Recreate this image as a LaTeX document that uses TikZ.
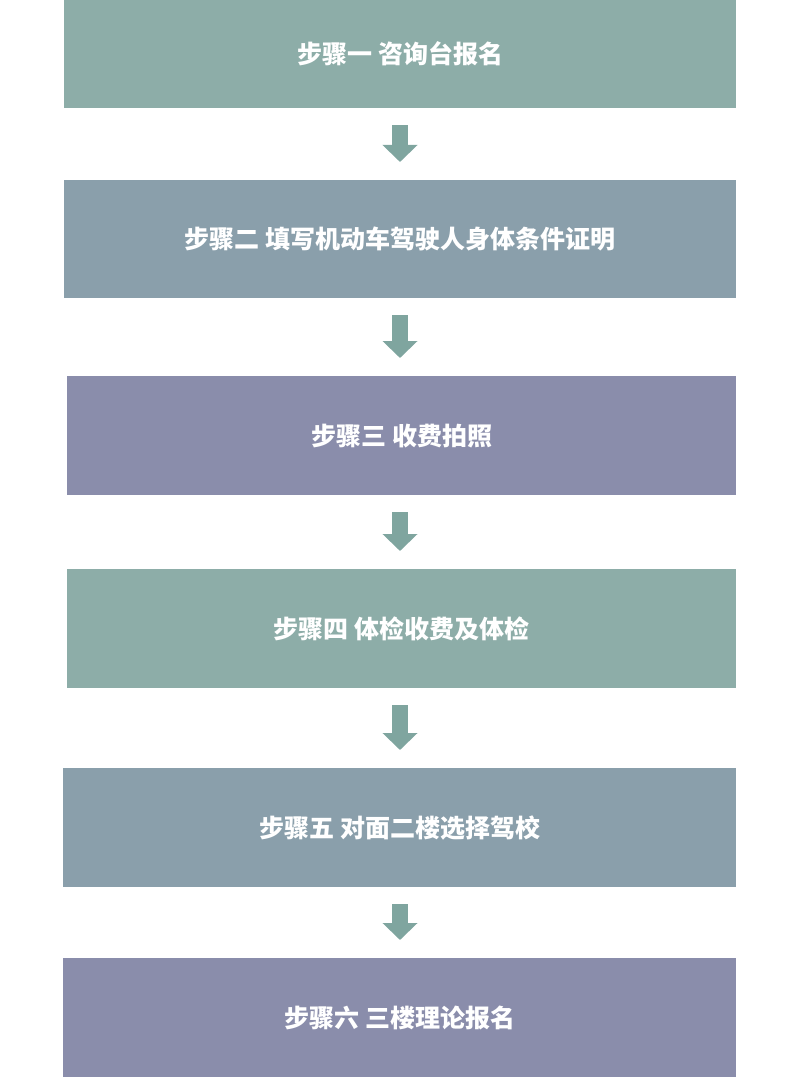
\documentclass[tikz,border=0pt]{standalone}
\usepackage{fontspec}
\newfontfamily\cjk{Noto Sans CJK SC}
\usetikzlibrary{arrows.meta}
\definecolor{stepgreen}{HTML}{8DADA8}
\definecolor{stepblue}{HTML}{8A9FAB}
\definecolor{steppurple}{HTML}{8A8DAB}
\definecolor{arrowgreen}{HTML}{7FA59F}
\begin{document}
\begin{tikzpicture}[x=1pt,y=-1pt]
\tikzset{stepbox/.style={anchor=north west,inner sep=0pt,text=white,
  font=\cjk\bfseries\fontsize{25}{25}\selectfont},
  flow/.style={arrowgreen,line width=16pt,shorten <=17pt,shorten >=18pt,
  -{Triangle[width=34pt,length=17pt]}}}
\useasboundingbox (0,0) rectangle (800,1086);
\node [stepbox,fill=stepgreen,minimum width=672pt,minimum height=108pt] (s1) at (64,0) {步骤一\ 咨询台报名};
\node [stepbox,fill=stepblue,minimum width=672pt,minimum height=118pt] (s2) at (64,180) {步骤二\ 填写机动车驾驶人身体条件证明};
\node [stepbox,fill=steppurple,minimum width=669pt,minimum height=119pt] (s3) at (67,376) {步骤三\ 收费拍照};
\node [stepbox,fill=stepgreen,minimum width=669pt,minimum height=119pt] (s4) at (67,569) {步骤四\ 体检收费及体检};
\node [stepbox,fill=stepblue,minimum width=673pt,minimum height=119pt] (s5) at (63,768) {步骤五\ 对面二楼选择驾校};
\node [stepbox,fill=steppurple,minimum width=673pt,minimum height=119pt] (s6) at (63,958) {步骤六\ 三楼理论报名};
\foreach \a/\b in {s1/s2,s2/s3,s3/s4,s4/s5,s5/s6}
  \draw [flow] (\a.south -| 400,0) -- (\b.north -| 400,0);
\end{tikzpicture}
\end{document}
